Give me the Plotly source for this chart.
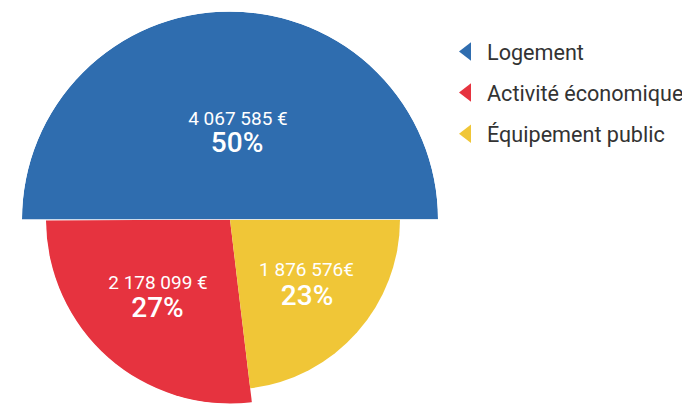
import plotly.graph_objects as go

categories = ["Logement", "Activité économique", "Équipement public"]
amounts = [4067585, 2178099, 1876576]
amount_labels = ["4 067 585 €", "2 178 099 €", "1 876 576€"]
pct_labels = ["50%", "27%", "23%"]
radius = [208, 184, 170]
colors = ["#2f6daf", "#e6333f", "#f0c637"]

# label anchor points (polar coords, layout only)
amount_pos_r = [99.8, 96.7, 92.2]
amount_pos_theta = [85.4, 221.9, 326.1]
pct_pos_r = [74.8, 116.0, 110.3]
pct_pos_theta = [84.6, 231.3, 314.3]

total = sum(amounts)
widths = [a / total * 360 for a in amounts]
starts = [sum(widths[:i]) for i in range(len(widths))]
mids = [s + w / 2 for s, w in zip(starts, widths)]

# blue slice lives in the upper half-disc subplot, others in the lower one
subplot_of = ["polar", "polar2", "polar2"]

# page body has an 8px margin, so the figure is sized to fit the window
W, H = 682, 396
CX, CY = 222, 211.5  # pixel center of the chart inside the figure
R_TOP, R_BOT = 208, 184.5

fig = go.Figure()
for i, cat in enumerate(categories):
    fig.add_trace(go.Barpolar(
        r=[radius[i]], theta=[mids[i]], width=[widths[i]],
        name=cat, legendgroup=cat, showlegend=False,
        marker=dict(color=colors[i], line=dict(width=0)),
        hoverinfo="name", subplot=subplot_of[i],
    ))
    # legend entry
    fig.add_trace(go.Scatterpolar(
        r=[None], theta=[None], mode="markers", name=cat, legendgroup=cat,
        marker=dict(symbol="triangle-left", size=16, color=colors[i]),
        subplot="polar2", showlegend=True,
    ))

for i in range(len(categories)):
    fig.add_trace(go.Scatterpolar(
        r=[amount_pos_r[i]], theta=[amount_pos_theta[i]], mode="text",
        text=[amount_labels[i]], textposition="middle center",
        cliponaxis=False, showlegend=False, subplot=subplot_of[i],
        textfont=dict(family="Roboto", size=19, color="white"), hoverinfo="skip",
    ))
    fig.add_trace(go.Scatterpolar(
        r=[pct_pos_r[i]], theta=[pct_pos_theta[i]], mode="text",
        text=[pct_labels[i]], textposition="middle center",
        cliponaxis=False, showlegend=False, subplot=subplot_of[i],
        textfont=dict(family="Roboto", size=28, color="white", weight=500),
        hoverinfo="skip",
    ))

common_polar = dict(
    bgcolor="rgba(0,0,0,0)",
    angularaxis=dict(visible=False, rotation=0, direction="counterclockwise", showgrid=False),
    bargap=0,
)

fig.update_layout(
    width=W, height=H,
    margin=dict(l=0, r=0, t=0, b=0, autoexpand=False),
    paper_bgcolor="white", plot_bgcolor="white",
    font=dict(family="Roboto", color="#333333"),
    polar=dict(
        domain=dict(x=[(CX - R_TOP) / W, (CX + R_TOP) / W],
                    y=[(H - CY) / H, (H - CY + R_TOP) / H]),
        sector=[0, 180],
        radialaxis=dict(range=[0, R_TOP], visible=False, showgrid=False),
        **common_polar,
    ),
    polar2=dict(
        domain=dict(x=[(CX - R_BOT) / W, (CX + R_BOT) / W],
                    y=[max(0, (H - CY - R_BOT) / H), (H - CY) / H]),
        sector=[180, 360],
        radialaxis=dict(range=[0, R_BOT], visible=False, showgrid=False),
        **common_polar,
    ),
    legend=dict(
        x=0.6437, y=0.942, xanchor="left", yanchor="top",
        font=dict(family="Roboto", size=21.6, color="#333333"),
        tracegroupgap=10, bgcolor="rgba(0,0,0,0)",
    ),
    showlegend=True,
)

fig.write_html("out.html")
